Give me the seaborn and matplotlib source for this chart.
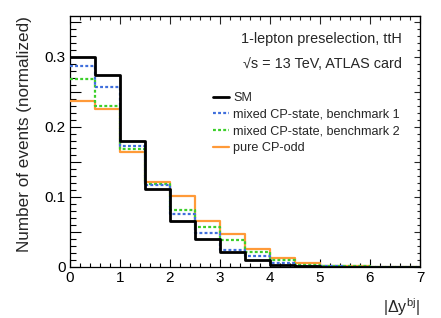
import numpy as np
import pandas as pd
import matplotlib
matplotlib.use("Agg")
import matplotlib.pyplot as plt
from matplotlib.ticker import MultipleLocator, FuncFormatter
from matplotlib.lines import Line2D
import seaborn as sns

# ---- data ----
bin_edges = [0.0, 0.5, 1.0, 1.5, 2.0, 2.5, 3.0, 3.5, 4.0, 4.5, 5.0, 5.5, 6.0, 6.5, 7.0]
sm = [0.300, 0.274, 0.180, 0.111, 0.065, 0.040, 0.0215, 0.0095, 0.0035, 0.0012, 0.0004, 0.0002, 0.0001, 0.0]
mixed1 = [0.286, 0.257, 0.172, 0.117, 0.075, 0.049, 0.024, 0.016, 0.005, 0.002, 0.001, 0.0005, 0.0002, 0.0001]
mixed2 = [0.268, 0.230, 0.169, 0.118, 0.082, 0.057, 0.038, 0.021, 0.0095, 0.003, 0.0015, 0.0012, 0.0004, 0.0002]
cpodd = [0.237, 0.225, 0.164, 0.121, 0.101, 0.065, 0.047, 0.025, 0.013, 0.005, 0.002, 0.001, 0.0005, 0.0002]
series_labels = ["SM", "mixed CP-state, benchmark 1", "mixed CP-state, benchmark 2", "pure CP-odd"]

sns.set_style("ticks")
plt.rcParams["font.family"] = ["Liberation Sans", "DejaVu Sans"]
plt.rcParams["mathtext.fontset"] = "custom"
plt.rcParams["mathtext.rm"] = "Liberation Sans"
plt.rcParams["mathtext.it"] = "Liberation Sans"

fig = plt.figure(figsize=(4.41, 3.18), dpi=100)
ax = fig.add_axes([0.1587, 0.1604, 0.7936, 0.7893])

centers = [(bin_edges[i] + bin_edges[i + 1]) / 2 for i in range(len(bin_edges) - 1)]
styles = [
    dict(color="black", lw=2.0, ls="-"),
    dict(color="#3f6fdc", lw=1.6, ls=(0, (1.3, 1.0))),
    dict(color="#3ccf2a", lw=1.6, ls=(0, (1.3, 1.0))),
    dict(color="#ff9a38", lw=1.6, ls="-"),
]
all_vals = [sm, mixed1, mixed2, cpodd]
order = [3, 2, 1, 0]
for i in order:
    st = styles[i]
    sns.histplot(x=centers, weights=all_vals[i], bins=bin_edges, element="step",
                 fill=False, color=st["color"], linewidth=st["lw"], linestyle=st["ls"],
                 ax=ax, zorder=3 + (3 - i))

ax.set_xlim(0, 7)
ax.set_ylim(0, 0.358)
ax.xaxis.set_major_locator(MultipleLocator(1))
ax.xaxis.set_minor_locator(MultipleLocator(0.2))
ax.yaxis.set_major_locator(MultipleLocator(0.05))
ax.yaxis.set_minor_locator(MultipleLocator(0.01))

def yfmt(v, pos):
    k = int(round(v / 0.05))
    if k % 2:
        return ""
    if k == 0:
        return "0"
    return f"{v:.1f}"

ax.yaxis.set_major_formatter(FuncFormatter(yfmt))
ax.xaxis.set_major_formatter(FuncFormatter(lambda v, p: f"{int(round(v))}"))

ax.tick_params(axis="both", which="both", direction="in", labelsize=11, colors="black")
ax.tick_params(axis="y", which="major", length=8, width=0.8, pad=3)
ax.tick_params(axis="y", which="minor", length=4.5, width=0.8)
ax.tick_params(axis="x", which="major", length=5.5, width=0.8, pad=3)
ax.tick_params(axis="x", which="minor", length=2.8, width=0.8)
for s in ax.spines.values():
    s.set_linewidth(0.9)
    s.set_color("black")

secy = ax.secondary_yaxis("right")
secy.yaxis.set_major_locator(MultipleLocator(0.05))
secy.yaxis.set_minor_locator(MultipleLocator(0.01))
secy.tick_params(axis="y", which="major", direction="in", length=4.5, width=0.8, labelright=False)
secy.tick_params(axis="y", which="minor", direction="in", length=2.5, width=0.8)
secx = ax.secondary_xaxis("top")
secx.xaxis.set_major_locator(MultipleLocator(1))
secx.xaxis.set_minor_locator(MultipleLocator(0.2))
secx.tick_params(axis="x", which="major", direction="in", length=5.5, width=0.8, labeltop=False)
secx.tick_params(axis="x", which="minor", direction="in", length=2.8, width=0.8)

ax.set_ylabel("Number of events (normalized)", fontsize=12.3, loc="top", labelpad=9)
ax.set_xlabel(r"$|\Delta \mathrm{y}^{\mathrm{bj}}|$", fontsize=11.5, loc="right", labelpad=8)

ax.text(0.947, 0.908, "1-lepton preselection, ttH", transform=ax.transAxes,
        ha="right", va="center", fontsize=10.4)
ax.text(0.947, 0.808, "\u221as = 13 TeV, ATLAS card", transform=ax.transAxes,
        ha="right", va="center", fontsize=10.4)

handles = [Line2D([], [], color=st["color"], lw=st["lw"], ls=st["ls"]) for st in styles]
leg = ax.legend(handles, series_labels, loc="upper left", bbox_to_anchor=(0.41, 0.697),
                frameon=False, fontsize=9.1, handlelength=1.25, handletextpad=0.3,
                labelspacing=0.38, borderaxespad=0, borderpad=0)

fig.savefig("out.png", dpi=100)
